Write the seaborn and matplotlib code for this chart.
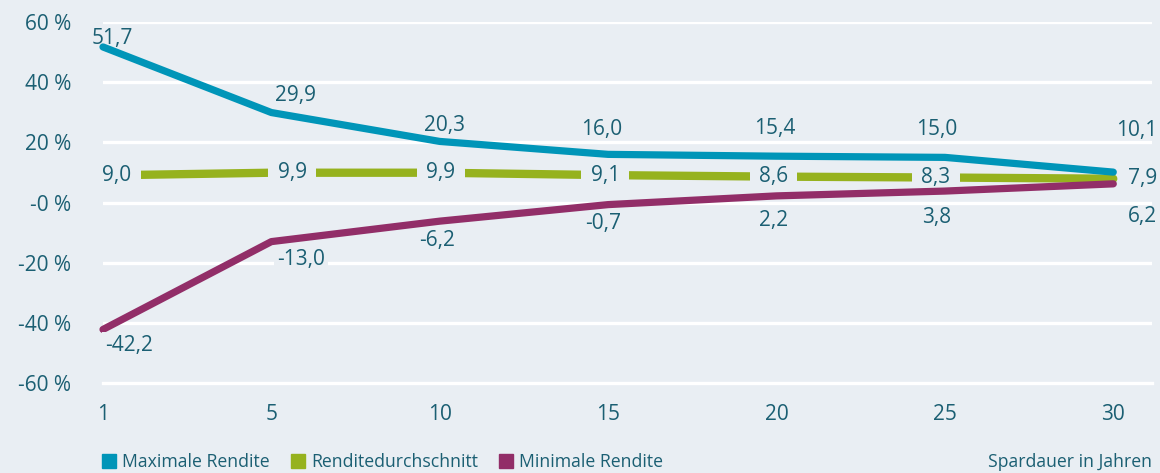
import matplotlib
matplotlib.use('Agg')
import matplotlib.pyplot as plt
import seaborn as sns
import pandas as pd
from matplotlib.lines import Line2D

# ---- data ----
years = ['1', '5', '10', '15', '20', '25', '30']
max_rendite = [51.7, 29.9, 20.3, 16.0, 15.4, 15.0, 10.1]
avg_rendite = [9.0, 9.9, 9.9, 9.1, 8.6, 8.3, 7.9]
min_rendite = [-42.2, -13.0, -6.2, -0.7, 2.2, 3.8, 6.2]
series_names = ['Maximale Rendite', 'Renditedurchschnitt', 'Minimale Rendite']
y_ticks = [-60, -40, -20, 0, 20, 40, 60]
y_tick_labels = ['-60 %', '-40 %', '-20 %', '-0 %', '20 %', '40 %', '60 %']
x_title = 'Spardauer in Jahren'

# ---- style ----
BG = '#E9EEF3'
TXT = '#1B5F73'
COLORS = ['#0095B8', '#96B21E', '#922E68']
FONT = 'Open Sans'
FS = 15
FS_LEG = 12.7

sns.set_theme(style='white')
plt.rcParams['font.family'] = [FONT, 'DejaVu Sans']

idx = list(range(len(years)))
df = pd.DataFrame({
    'pos': idx * 3,
    'wert': max_rendite + avg_rendite + min_rendite,
    'serie': [series_names[0]] * len(years) + [series_names[1]] * len(years) + [series_names[2]] * len(years),
})

W, H = 1160, 473
fig = plt.figure(figsize=(W / 100, H / 100), dpi=100, facecolor=BG)
ax = fig.add_axes([103 / W, 1 - 383 / H, (1152 - 103) / W, (383 - 22) / H])
ax.set_facecolor(BG)

lws = [5.2, 6.0, 5.2]
line_z = [3, 2.0, 3]
for name, col, lw, z in zip(series_names, COLORS, lws, line_z):
    sub = df[df['serie'] == name]
    sns.lineplot(data=sub, x='pos', y='wert', ax=ax, color=col, linewidth=lw,
                 solid_capstyle='round', solid_joinstyle='round', legend=False,
                 zorder=z, clip_on=False)

ax.set_xlim(0, len(years) - 1 + 0.23)
ax.set_ylim(-60, 60)
ax.set_yticks(y_ticks)
ax.set_yticklabels(y_tick_labels)
ax.set_xticks(idx)
ax.set_xticklabels(years)
ax.set_xticks([i + 0.5 for i in idx[:-1]], minor=True)
ax.set_xlabel('')
ax.set_ylabel('')

for y in y_ticks[1:]:
    ax.axhline(y, color='white', lw=2.4, zorder=1)

for s in ['top', 'right', 'left']:
    ax.spines[s].set_visible(False)
ax.spines['bottom'].set_color('white')
ax.spines['bottom'].set_linewidth(2.4)
ax.tick_params(axis='x', which='major', length=9, width=2.2, color='white',
               labelsize=FS, labelcolor=TXT, pad=6, direction='out')
ax.tick_params(axis='x', which='minor', length=7, width=2.2, color='white', direction='out')
ax.tick_params(axis='y', length=0, labelsize=FS, labelcolor=TXT, pad=23)
ax.grid(False)

# ---- value labels ----
px = 0.72
max_off = [(9, 8), (24, 17), (5, 16), (-7, 25), (-2, 28), (-8, 28), (23, 42)]
avg_off = [(14, 0), (21, 0), (1, 0), (-3, 0), (-3, 0), (-9, 0), (29, 0)]
min_off = [(26, -16), (30, -18), (-3, -19), (-5, -19), (-3, -25), (-8, -26), (29, -33)]
max_box = [None] * 7
avg_box = [0.45] * 7
min_box = [0.15, 0.15, None, None, None, None, None]

def fmt(v):
    return f'{v:.1f}'.replace('.', ',')

for vals, offs, pads, z in [(max_rendite, max_off, max_box, 5),
                            (avg_rendite, avg_off, avg_box, 2.5),
                            (min_rendite, min_off, min_box, 5)]:
    for i, (v, (dx, dy), pad) in enumerate(zip(vals, offs, pads)):
        kw = {}
        if pad is not None:
            kw['bbox'] = dict(boxstyle=f'square,pad={pad}', fc=BG, ec='none')
        ax.annotate(fmt(v), (i, v), xytext=(dx * px, dy * px), textcoords='offset points',
                    ha='center', va='center', fontsize=FS, color=TXT, zorder=z,
                    annotation_clip=False, **kw)

# ---- legend ----
handles = [Line2D([], [], marker='s', color=c, linestyle='', markersize=9.4) for c in COLORS]
fig.legend(handles, series_names, loc='center left', bbox_to_anchor=(102 / W, 1 - 462 / H),
           ncol=3, frameon=False, fontsize=FS_LEG, labelcolor=TXT, handlelength=0.8,
           handletextpad=0.34, columnspacing=1.2, borderpad=0, borderaxespad=0)
fig.text(1152 / W, 1 - 462 / H, x_title, ha='right', va='center', fontsize=FS_LEG, color=TXT)

fig.savefig('out.png', dpi=100, facecolor=BG)
